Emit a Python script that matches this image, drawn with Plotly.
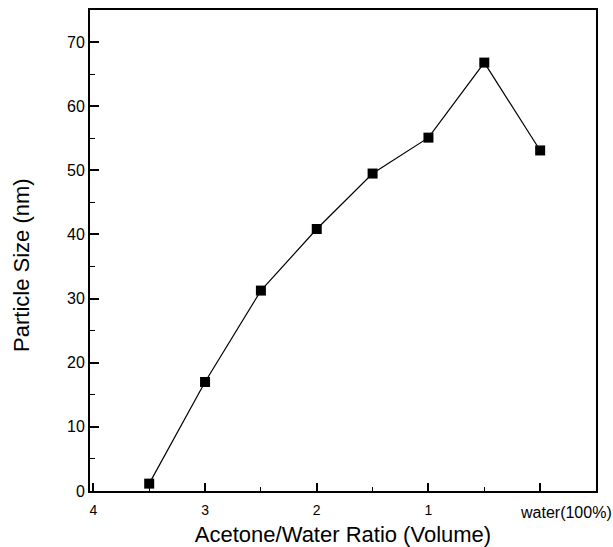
import plotly.graph_objects as go

# Acetone/water volume ratio (0 = pure water) and measured particle size
ratio = [3.5, 3.0, 2.5, 2.0, 1.5, 1.0, 0.5, 0.0]
size_nm = [1.15, 17.0, 31.25, 40.85, 49.5, 55.1, 66.8, 53.1]

x_tickvals = [4, 3, 2, 1]
x_ticktext = ["4", "3", "2", "1"]
water_label = "water(100%)"
y_tickvals = [0, 10, 20, 30, 40, 50, 60, 70]

FONT = "Liberation Sans, Arial, Helvetica, sans-serif"

fig = go.Figure()
fig.add_trace(go.Scatter(
    x=ratio, y=size_nm,
    mode="lines+markers",
    line=dict(color="black", width=1.2),
    marker=dict(symbol="square", size=10, color="black"),
    showlegend=False,
))

fig.update_layout(
    width=613, height=547,
    margin=dict(l=90, r=17, t=10, b=56),
    paper_bgcolor="white", plot_bgcolor="white",
    font=dict(family=FONT, color="black"),
    xaxis=dict(
        range=[4.03, -0.5], automargin=False,
        tickmode="array", tickvals=x_tickvals + [0], ticktext=x_ticktext + [""],
        ticks="inside", ticklen=8, tickwidth=1.5, tickcolor="black",
        minor=dict(tickmode="linear", tick0=0, dtick=0.5, ticks="inside",
                   ticklen=4, tickwidth=1.2, tickcolor="black"),
        showline=True, linecolor="black", linewidth=2, mirror=True,
        showgrid=False, zeroline=False,
        tickfont=dict(size=14, family=FONT),
        ticklabelstandoff=5,
        title=dict(text="Acetone/Water Ratio (Volume)",
                   font=dict(size=22, family=FONT), standoff=11),
    ),
    yaxis=dict(
        range=[0, 75], automargin=False,
        tickmode="array", tickvals=y_tickvals,
        ticks="inside", ticklen=9, tickwidth=1.5, tickcolor="black",
        minor=dict(tickmode="linear", tick0=0, dtick=5, ticks="inside",
                   ticklen=5, tickwidth=1.2, tickcolor="black"),
        showline=True, linecolor="black", linewidth=2, mirror=True,
        showgrid=False, zeroline=False,
        tickfont=dict(size=16, family=FONT),
    ),
    annotations=[
        dict(text=water_label, x=0, y=0, xref="x", yref="paper",
             xanchor="left", yanchor="middle", xshift=-22, yshift=-21,
             showarrow=False, font=dict(size=16, family=FONT)),
        dict(text="Particle Size (nm)", x=0, y=0.47, xref="paper", yref="paper",
             xanchor="center", yanchor="middle", xshift=-68, showarrow=False,
             textangle=-90, font=dict(size=22, family=FONT)),
    ],
)

fig.write_html("out.html")
